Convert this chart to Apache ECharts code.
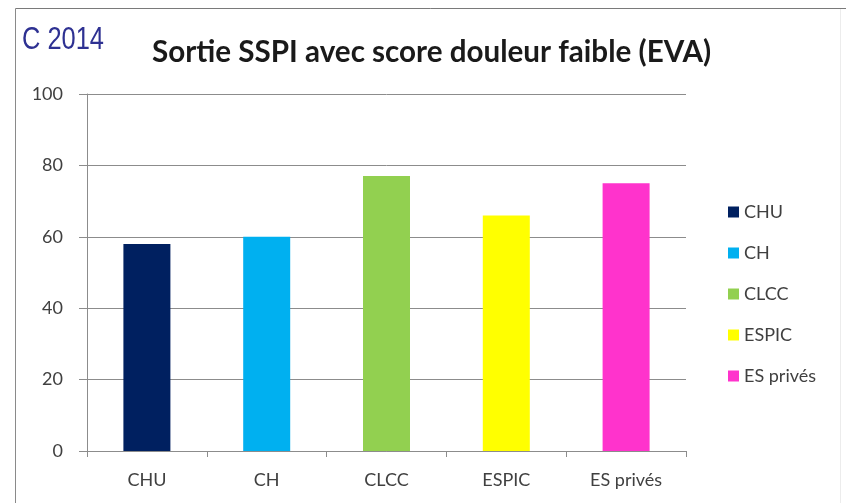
<!DOCTYPE html>
<html>
<head>
<meta charset="utf-8">
<script src="https://cdn.jsdelivr.net/npm/echarts@6/dist/echarts.min.js"></script>
<style>
  html, body { margin: 0; padding: 0; background: #fff; }
  #chart { width: 846px; height: 503px; }
</style>
</head>
<body>
<div id="chart"></div>
<script>
const categories = ['CHU', 'CH', 'CLCC', 'ESPIC', 'ES privés']
const values = [58, 60, 77, 66, 75]
const colors = ['#002060', '#00b0f0', '#92d050', '#ffff00', '#ff33cc']
const yTicks = [0, 20, 40, 60, 80, 100]

const chart = echarts.init(document.getElementById('chart'))

// one series per category so the legend lists each one, stacked to keep bars centred
const series = categories.map((name, i) => ({
  name,
  type: 'bar',
  stack: 'all',
  barWidth: 47,
  itemStyle: { color: colors[i] },
  data: values.map((v, j) => (j === i ? v : null))
}))

const option = {
  animation: false,
  backgroundColor: '#fff',
  graphic: [
    { type: 'line', shape: { x1: 15.5, y1: 8.5, x2: 846, y2: 8.5 }, style: { stroke: '#7a7a7a', lineWidth: 1 } },
    { type: 'line', shape: { x1: 15.5, y1: 8.5, x2: 15.5, y2: 503 }, style: { stroke: '#8a8a8a', lineWidth: 1 } },
    { type: 'line', shape: { x1: 840.5, y1: 9, x2: 840.5, y2: 503 }, style: { stroke: '#ececec', lineWidth: 1 } },
    {
      type: 'text', x: 22, y: 25, scaleX: 0.82,
      style: { text: 'C 2014', fill: '#2e3192', font: '31px "Liberation Sans Narrow", "Liberation Sans", sans-serif' }
    }
  ],
  title: {
    text: 'Sortie SSPI avec score douleur faible (EVA)',
    left: 147,
    top: 32,
    textStyle: { fontFamily: 'Lato', fontWeight: 'bold', fontSize: 29.6, color: '#1a1a1a' }
  },
  legend: {
    orient: 'vertical',
    left: 723,
    top: 197,
    itemWidth: 11,
    itemHeight: 11,
    itemGap: 21,
    icon: 'rect',
    textStyle: { fontFamily: 'Lato', fontSize: 18, color: '#404040', lineHeight: 20 },
    data: categories
  },
  grid: { left: 87, right: 160, top: 94, bottom: 52 },
  xAxis: {
    type: 'category',
    data: categories,
    axisLine: { lineStyle: { color: '#8c8c8c' } },
    axisTick: { show: true, length: 6, lineStyle: { color: '#8c8c8c' } },
    axisLabel: { fontFamily: 'Lato', fontSize: 18, color: '#404040', margin: 20 }
  },
  yAxis: {
    type: 'value',
    min: yTicks[0],
    max: yTicks[yTicks.length - 1],
    interval: 20,
    axisLine: { show: true, lineStyle: { color: '#8c8c8c' } },
    axisTick: { show: true, length: 8, lineStyle: { color: '#8c8c8c' } },
    axisLabel: { fontFamily: 'Lato', fontSize: 18, color: '#404040', margin: 24 },
    splitLine: { lineStyle: { color: '#8c8c8c' } }
  },
  series
}

chart.setOption(option)
</script>
</body>
</html>
